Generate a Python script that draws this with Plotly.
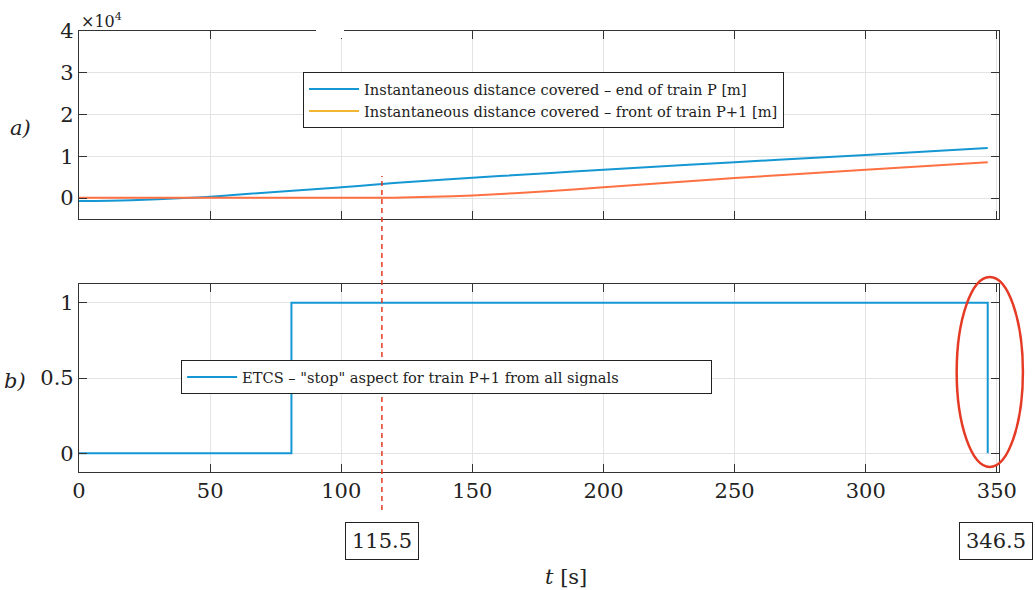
import plotly.graph_objects as go

# ---- data ----
t_end_p = [0, 20, 40, 60, 80, 100, 120, 150, 180, 200, 250, 300, 346.5]
dist_end_p = [-700, -500, 0, 800, 1700, 2600, 3600, 4900, 6000, 6800, 8600, 10300, 12000]

t_front_p1 = [0, 50, 100, 120, 135, 150, 180, 200, 250, 300, 346.5]
dist_front_p1 = [100, 100, 100, 100, 300, 650, 1700, 2600, 4800, 6800, 8600]

t_etcs = [0, 81, 346.5]
etcs_stop = [0, 1, 0]

t_marks = [115.5, 346.5]
x_ticks = [0, 50, 100, 150, 200, 250, 300, 350]
y1_ticks = [0, 10000, 20000, 30000, 40000]
y1_labels = ["0", "1", "2", "3", "4"]
y2_ticks = [0, 0.5, 1]
y2_labels = ["0", "0.5", "1"]

BLUE = "#1597d3"
CORAL = "#ff7043"
LEG_ORANGE = "#f2b531"
RED = "#e53a24"
FONT = "DejaVu Serif"
TXT = "#222222"

fig = go.Figure()

fig.add_trace(go.Scatter(x=t_end_p, y=dist_end_p, mode="lines", line=dict(color=BLUE, width=2, shape="spline"),
                         name="Instantaneous distance covered – end of train P [m]", xaxis="x", yaxis="y", legend="legend"))
fig.add_trace(go.Scatter(x=t_front_p1, y=dist_front_p1, mode="lines", line=dict(color=CORAL, width=2, shape="spline"),
                         showlegend=False, xaxis="x", yaxis="y"))
fig.add_trace(go.Scatter(x=[None], y=[None], mode="lines", line=dict(color=LEG_ORANGE, width=2),
                         name="Instantaneous distance covered – front of train P+1 [m]", xaxis="x", yaxis="y", legend="legend"))
fig.add_trace(go.Scatter(x=t_etcs, y=etcs_stop, mode="lines", line=dict(color=BLUE, width=2, shape="hv"),
                         name='ETCS – "stop" aspect for train P+1 from all signals', xaxis="x2", yaxis="y2", legend="legend2"))

axis_common = dict(showline=True, linecolor="#333333", linewidth=1.2, mirror="ticks", ticks="inside", ticklen=8,
                   tickcolor="#333333", tickwidth=1.2, showgrid=True, gridcolor="#e3e3e3", gridwidth=1, zeroline=False,
                   tickfont=dict(family=FONT, size=21, color=TXT))

fig.update_layout(
    width=1035, height=590,
    margin=dict(l=79, r=36, t=31, b=118),
    plot_bgcolor="white", paper_bgcolor="white",
    font=dict(family=FONT, color=TXT),
    xaxis=dict(domain=[0, 1], anchor="y", range=[0, 350.8], tickvals=x_ticks, showticklabels=False, **axis_common),
    yaxis=dict(domain=[0.5737, 1], anchor="x", range=[-5000, 40000], tickvals=y1_ticks, ticktext=y1_labels, **axis_common),
    xaxis2=dict(domain=[0, 1], anchor="y2", range=[0, 350.8], tickvals=x_ticks, **axis_common),
    yaxis2=dict(domain=[0, 0.4263], anchor="x2", range=[-0.125, 1.125], tickvals=y2_ticks, ticktext=y2_labels, **axis_common),
    legend=dict(x=0.2435, y=0.907, xanchor="left", yanchor="top", bgcolor="white", bordercolor=TXT, borderwidth=1,
                font=dict(family=FONT, size=14.6, color=TXT), tracegroupgap=0, itemwidth=50),
    legend2=dict(x=0.111, y=0.254, xanchor="left", yanchor="top", bgcolor="white", bordercolor=TXT, borderwidth=1,
                 orientation="h", entrywidth=464, itemwidth=50, font=dict(family=FONT, size=14.6, color=TXT)),
    showlegend=True,
)

# red dashed marker line at t = 115.5 spanning both panels
fig.add_shape(type="line", xref="x", yref="paper", x0=t_marks[0], x1=t_marks[0], y0=-0.086, y1=0.671,
              line=dict(color=RED, width=1.5, dash="5px,4px"), layer="above")
# red ellipse around the drop at t = 346.5
fig.add_shape(type="circle", xref="paper", yref="paper", x0=0.954, x1=1.026, y0=0.0113, y1=0.442,
              line=dict(color=RED, width=2.5), layer="above")
# small white gap in the top border (as in the reference)
fig.add_shape(type="rect", xref="paper", yref="paper", x0=0.2576, x1=0.288, y0=0.984, y1=1.01,
              line=dict(width=0), fillcolor="white", layer="above")

# annotations
fig.add_annotation(xref="paper", yref="paper", x=0.0, y=1.0, xanchor="left", yanchor="bottom",
                   text="×10<sup>4</sup>", showarrow=False, font=dict(family=FONT, size=16, color=TXT), yshift=-2)
fig.add_annotation(xref="paper", yref="paper", x=-0.05, y=(472 - 128) / 441, xanchor="right", yanchor="middle",
                   text="<i>a)</i>", showarrow=False, font=dict(family=FONT, size=21, color=TXT))
fig.add_annotation(xref="paper", yref="paper", x=-0.055, y=(472 - 381) / 441, xanchor="right", yanchor="middle",
                   text="<i>b)</i>", showarrow=False, font=dict(family=FONT, size=21, color=TXT))
fig.add_annotation(xref="x2", yref="paper", x=t_marks[0], y=(472 - 541) / 441, xanchor="center", yanchor="middle",
                   text=f"{t_marks[0]}", showarrow=False, bordercolor=TXT, borderwidth=1, borderpad=6,
                   bgcolor="white", font=dict(family=FONT, size=21, color=TXT))
fig.add_annotation(xref="paper", yref="paper", x=(996 - 79) / 920, y=(472 - 541) / 441, xanchor="center", yanchor="middle",
                   text=f"{t_marks[1]}", showarrow=False, bordercolor=TXT, borderwidth=1, borderpad=6,
                   bgcolor="white", font=dict(family=FONT, size=21, color=TXT))
fig.add_annotation(xref="paper", yref="paper", x=(566 - 79) / 920, y=(472 - 577) / 441, xanchor="center", yanchor="middle",
                   text="<i>t</i> [s]", showarrow=False, font=dict(family=FONT, size=21, color=TXT))

fig.write_html("out.html")
